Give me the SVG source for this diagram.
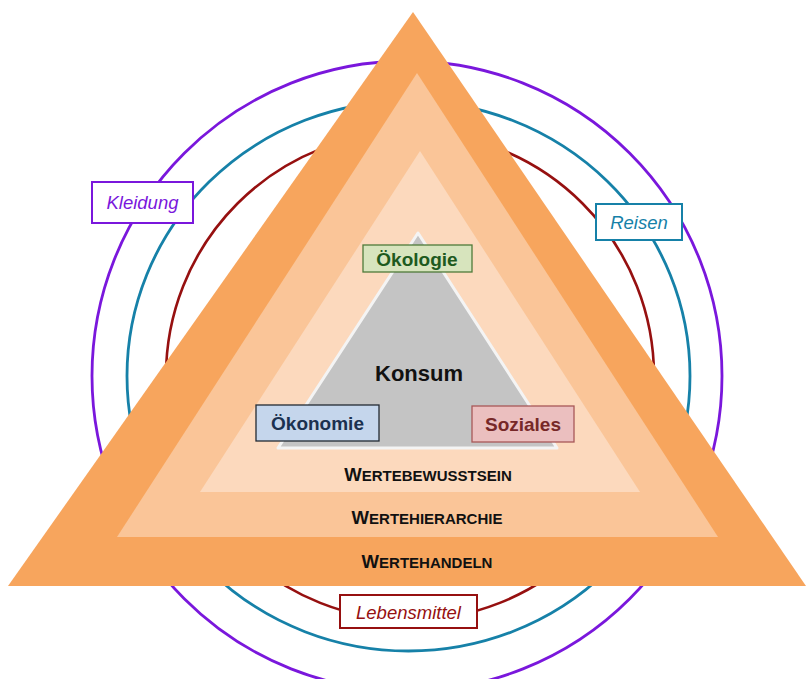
<svg xmlns="http://www.w3.org/2000/svg" width="807" height="679" viewBox="0 0 807 679">
<style>
text{font-family:"Liberation Sans",Arial,sans-serif}
.ring{fill:none}
.tag{fill:#fff;stroke-width:2}
.lbl{font-style:italic;font-size:18.5px;text-anchor:middle}
.dim{stroke-width:1.3}
.dimt{font-weight:bold;font-size:19px;text-anchor:middle}
.val{font-weight:bold;text-anchor:middle;fill:#111}
.big{font-size:18.5px}
.sm{font-size:15px}
</style>
<rect width="807" height="679" fill="#fff"/>
<g id="rings">
<circle id="ring-kleidung" class="ring" cx="407" cy="376" r="315" stroke="#7A17DC" stroke-width="2.8"/>
<ellipse id="ring-reisen" class="ring" cx="408.5" cy="376" rx="281.5" ry="275" stroke="#1681A8" stroke-width="2.8"/>
<circle id="ring-lebensmittel" class="ring" cx="410" cy="376" r="244" stroke="#961010" stroke-width="2.6"/>
</g>
<g id="pyramid">
<polygon id="wertehandeln-layer" points="413,12 8,586 806,586" fill="#F7A55D"/>
<polygon id="wertehierarchie-layer" points="417,73 117,537 718,537" fill="#FAC598"/>
<polygon id="wertebewusstsein-layer" points="420,151 200,492 640,492" fill="#FCD9BD"/>
<polygon id="konsum-layer" points="418,233 278,448 557,448" fill="#C4C4C4" stroke="#F4F4F4" stroke-width="3" stroke-linejoin="round"/>
</g>
<g id="connectors"></g>
<g id="konsum"><text x="419" y="381" font-weight="bold" font-size="22" text-anchor="middle" fill="#111">Konsum</text></g>
<g id="oekologie"><rect x="363" y="245" width="109" height="27" fill="#D7E4BD" stroke="#4F7A3A" class="dim"/><text class="dimt" x="417" y="265.5" fill="#1E5A1E">Ökologie</text></g>
<g id="oekonomie"><rect x="256" y="405" width="123" height="36" fill="#C5D6EC" stroke="#222A33" class="dim"/><text class="dimt" x="317.5" y="430" font-size="19.5" fill="#1B3150">Ökonomie</text></g>
<g id="soziales"><rect x="472" y="406" width="102" height="36" fill="#EBBFBF" stroke="#A85858" class="dim"/><text class="dimt" x="523" y="431" fill="#772828">Soziales</text></g>
<g id="wertebewusstsein"><text class="val" x="428" y="480.5"><tspan class="big">W</tspan><tspan class="sm">ERTEBEWUSSTSEIN</tspan></text></g>
<g id="wertehierarchie"><text class="val" x="427" y="523.5"><tspan class="big">W</tspan><tspan class="sm">ERTEHIERARCHIE</tspan></text></g>
<g id="wertehandeln"><text class="val" x="427" y="567.5"><tspan class="big">W</tspan><tspan class="sm">ERTEHANDELN</tspan></text></g>
<g id="kleidung"><rect class="tag" x="92" y="182" width="101" height="41" stroke="#7A17DC"/><text class="lbl" x="142.5" y="209" fill="#7A17DC">Kleidung</text></g>
<g id="reisen"><rect class="tag" x="596" y="204" width="86" height="36" stroke="#1681A8"/><text class="lbl" x="639" y="228.5" fill="#1681A8">Reisen</text></g>
<g id="lebensmittel"><rect class="tag" x="340" y="595" width="137" height="33" stroke="#961010"/><text class="lbl" x="408.5" y="618.5" fill="#961010">Lebensmittel</text></g>
</svg>
